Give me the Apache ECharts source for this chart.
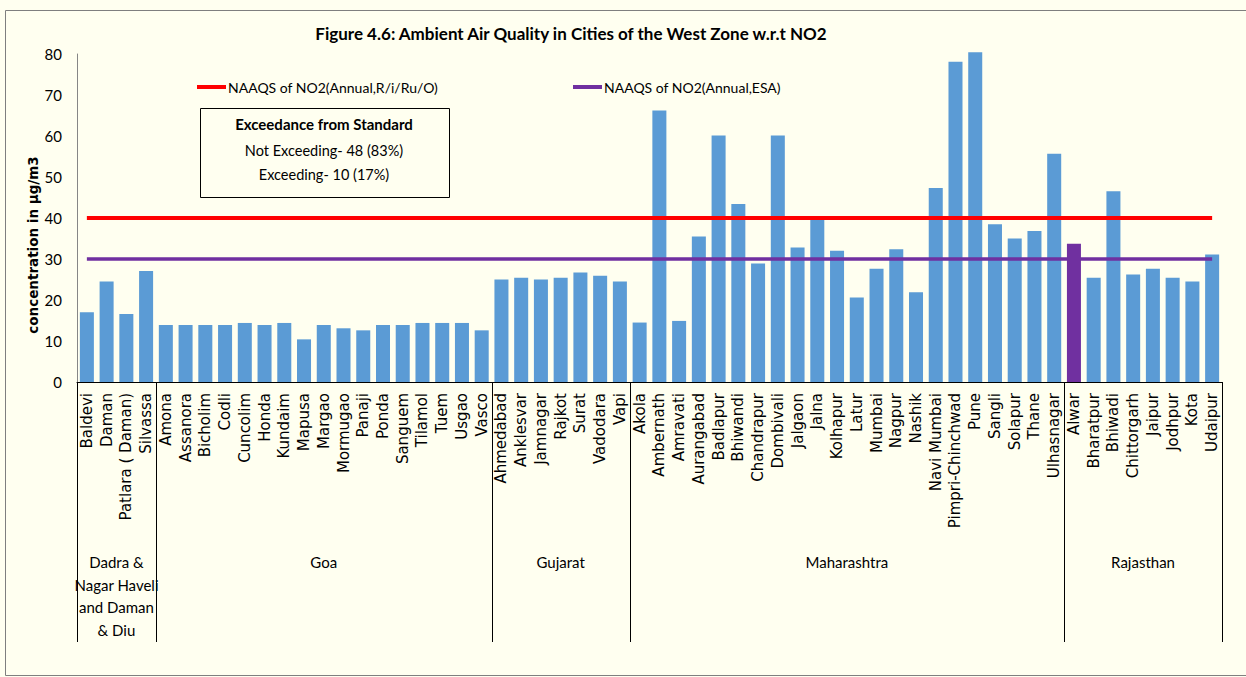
<!DOCTYPE html>
<html>
<head>
<meta charset="utf-8">
<title>Ambient Air Quality - West Zone NO2</title>
<script src="https://cdn.jsdelivr.net/npm/echarts@6/dist/echarts.min.js"></script>
<style>
html, body { margin: 0; padding: 0; background: #fffff0; }
#chart { width: 1246px; height: 677px; }
</style>
</head>
<body>
<div id="chart"></div>
<script>
// states and how many cities each one has (in order)
const states = ['Dadra &\nNagar Haveli\nand Daman\n& Diu', 'Goa', 'Gujarat', 'Maharashtra', 'Rajasthan']
const stateCounts = [4, 17, 7, 22, 8]

const cities = [
  'Baldevi', 'Daman', 'Patlara ( Daman)', 'Silvassa',
  'Amona', 'Assanora', 'Bicholim', 'Codli', 'Cuncolim', 'Honda', 'Kundaim', 'Mapusa', 'Margao',
  'Mormugao', 'Panaji', 'Ponda', 'Sanguem', 'Tilamol', 'Tuem', 'Usgao', 'Vasco',
  'Ahmedabad', 'Anklesvar', 'Jamnagar', 'Rajkot', 'Surat', 'Vadodara', 'Vapi',
  'Akola', 'Ambernath', 'Amravati', 'Aurangabad', 'Badlapur', 'Bhiwandi', 'Chandrapur', 'Dombivali',
  'Jalgaon', 'Jalna', 'Kolhapur', 'Latur', 'Mumbai', 'Nagpur', 'Nashik', 'Navi Mumbai',
  'Pimpri-Chinchwad', 'Pune', 'Sangli', 'Solapur', 'Thane', 'Ulhasnagar',
  'Alwar', 'Bharatpur', 'Bhiwadi', 'Chittorgarh', 'Jaipur', 'Jodhpur', 'Kota', 'Udaipur'
]

// annual average NO2, µg/m3
const no2 = [
  17.0, 24.5, 16.6, 27.1,
  13.9, 13.9, 13.9, 13.9, 14.4, 13.9, 14.4, 10.4, 13.9, 13.1, 12.6, 13.9, 13.9, 14.4, 14.4, 14.4, 12.6,
  25.0, 25.4, 25.0, 25.4, 26.7, 25.9, 24.5,
  14.5, 66.2, 14.9, 35.5, 60.1, 43.4, 28.9, 60.1, 32.8, 39.8, 32.0, 20.6, 27.6, 32.4, 21.9, 47.3,
  78.1, 80.4, 38.5, 35.0, 36.8, 55.7,
  33.7, 25.4, 46.5, 26.2, 27.6, 25.4, 24.5, 31.1
]

const naaqsResidential = 40
const naaqsEsa = 30
const esaCity = 'Alwar'
const yMin = 0
const yMax = 80
const yStep = 10

const nameRes = 'NAAQS of NO2(Annual,R/i/Ru/O)'
const nameEsa = 'NAAQS of NO2(Annual,ESA)'
const yName = 'concentration in µg/m3'
const boxLines = ['Exceedance from Standard', 'Not Exceeding- 48 (83%)', 'Exceeding- 10 (17%)']

const narrow = 'Lato, "Noto Sans", sans-serif'
const wide = '"DejaVu Sans", Verdana, sans-serif'

const chart = echarts.init(document.getElementById('chart'), null, { renderer: 'svg' })

const option = {
  backgroundColor: '#fffff0',
  animation: false,
  title: {
    text: 'Figure 4.6: Ambient Air Quality in Cities of the West Zone w.r.t NO2',
    left: 566,
    top: 20,
    textAlign: 'center',
    textStyle: { fontFamily: narrow, fontSize: 17, fontWeight: 'bold', color: '#000' }
  },
  legend: [
    {
      data: [nameRes], left: 192, top: 75, icon: 'rect', itemWidth: 29, itemHeight: 4, itemGap: 0,
      textStyle: { fontFamily: narrow, fontSize: 14, color: '#000', padding: [0, 0, 0, -3] }
    },
    {
      data: [nameEsa], left: 568, top: 75, icon: 'rect', itemWidth: 29, itemHeight: 4, itemGap: 0,
      textStyle: { fontFamily: narrow, fontSize: 14, color: '#000', padding: [0, 0, 0, -3] }
    }
  ],
  grid: { left: 77, right: 24, top: 54, bottom: 295 },
  xAxis: {
    type: 'category',
    data: cities,
    axisLine: { lineStyle: { color: '#000', width: 1 } },
    axisTick: { show: false },
    axisLabel: {
      interval: 0, rotate: 90, margin: 11,
      fontFamily: wide, fontSize: 15, color: '#000'
    }
  },
  yAxis: {
    type: 'value',
    min: yMin, max: yMax, interval: yStep,
    splitLine: { show: false },
    axisLine: { show: true, lineStyle: { color: '#868686' } },
    axisTick: { show: false },
    axisLabel: { margin: 15, fontFamily: narrow, fontSize: 15, color: '#000' }
  },
  series: [
    {
      type: 'bar',
      name: 'NO2',
      clip: false,
      barCategoryGap: '29%',
      itemStyle: { color: '#5b9bd5' },
      data: no2.map((v, i) => cities[i] === esaCity ? { value: v, itemStyle: { color: '#7030a0' } } : v)
    },
    {
      type: 'line',
      name: nameRes,
      symbol: 'none',
      z: 5,
      itemStyle: { color: '#ff0000' },
      lineStyle: { color: '#ff0000', width: 4 },
      data: cities.map(() => naaqsResidential)
    },
    {
      type: 'line',
      name: nameEsa,
      symbol: 'none',
      z: 5,
      itemStyle: { color: '#7030a0' },
      lineStyle: { color: '#7030a0', width: 3.5 },
      data: cities.map(() => naaqsEsa)
    }
  ]
}

chart.setOption(option)

// state groups under the city labels: separators and names
const px = i => chart.convertToPixel({ xAxisIndex: 0 }, i)
const band = px(1) - px(0)
const axisY = Math.round(chart.convertToPixel({ yAxisIndex: 0 }, yMin))
const sepBottom = 642
const elements = []
let start = 0
stateCounts.forEach((n, k) => {
  const x0 = px(start) - band / 2
  const x1 = px(start + n - 1) + band / 2
  elements.push({
    type: 'line', silent: true,
    shape: { x1: Math.round(x0) + 0.5, y1: axisY, x2: Math.round(x0) + 0.5, y2: sepBottom },
    style: { stroke: '#000', lineWidth: 1 }
  })
  if (k === stateCounts.length - 1) {
    elements.push({
      type: 'line', silent: true,
      shape: { x1: Math.round(x1) + 0.5, y1: axisY, x2: Math.round(x1) + 0.5, y2: sepBottom },
      style: { stroke: '#000', lineWidth: 1 }
    })
  }
  elements.push({
    type: 'text', silent: true,
    style: {
      x: (x0 + x1) / 2, y: 551, text: states[k],
      align: 'center', verticalAlign: 'top', lineHeight: 22.5,
      fontFamily: narrow, fontSize: 15, fill: '#000'
    }
  })
  start += n
})

// y axis title, sitting a little below the middle as in the source figure
elements.push({
  type: 'text', silent: true,
  x: 33, y: 245, rotation: Math.PI / 2,
  style: {
    x: 0, y: 0, text: yName, align: 'center', verticalAlign: 'middle',
    fontFamily: wide, fontSize: 13.5, fontWeight: 'bold', fill: '#000'
  }
})

// exceedance box
elements.push({
  type: 'rect', silent: true,
  shape: { x: 200.5, y: 108.5, width: 249, height: 89 },
  style: { fill: 'none', stroke: '#000', lineWidth: 1 }
})
boxLines.forEach((t, i) => {
  elements.push({
    type: 'text', silent: true,
    style: {
      x: 324, y: [124, 150, 174][i], text: t,
      align: 'center', verticalAlign: 'middle',
      fontFamily: narrow, fontSize: i === 0 ? 15 : 14.5, fontWeight: i === 0 ? 'bold' : 'normal', fill: '#000'
    }
  })
})

// outer frame
elements.push({
  type: 'rect', silent: true, z: -1,
  shape: { x: 5.5, y: 10.5, width: 1300, height: 665 },
  style: { fill: 'none', stroke: '#7f7f7f', lineWidth: 1 }
})

chart.setOption({ graphic: elements })
</script>
</body>
</html>
